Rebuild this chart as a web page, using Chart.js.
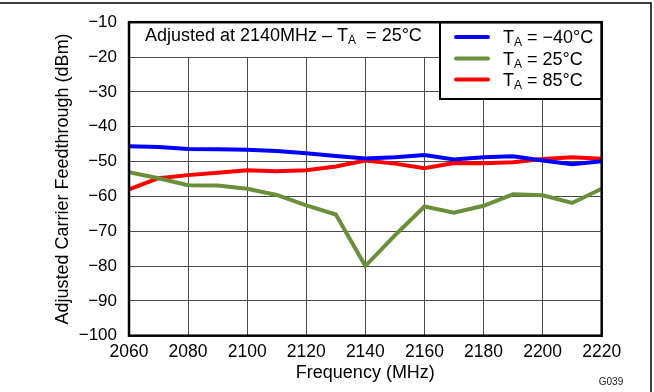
<!DOCTYPE html>
<html>
<head>
<meta charset="utf-8">
<script src="https://cdn.jsdelivr.net/npm/chart.js@4.4.1/dist/chart.umd.min.js"></script>
<style>
html,body{margin:0;padding:0;background:#fff;}
#wrap{width:654px;height:392px;position:relative;}
</style>
</head>
<body>
<div id="wrap"><canvas id="c" width="654" height="392"></canvas></div>
<script>
// ---- data ----
const freqs = [2060,2070,2080,2090,2100,2110,2120,2130,2140,2150,2160,2170,2180,2190,2200,2210,2220];
const tMinus40 = [-45.6,-45.8,-46.4,-46.5,-46.6,-47.0,-47.6,-48.4,-49.1,-48.8,-48.1,-49.4,-48.8,-48.5,-49.7,-50.8,-49.9];
const t25 = [-53.1,-54.8,-56.8,-56.9,-57.8,-59.6,-62.6,-65.2,-80.0,-71.2,-62.9,-64.7,-62.7,-59.4,-59.7,-61.9,-57.8];
const t85 = [-58.0,-54.8,-53.9,-53.2,-52.5,-52.8,-52.5,-51.4,-49.7,-50.6,-51.9,-50.4,-50.5,-50.2,-49.3,-48.8,-49.2];
const seriesSub = ['A','A','A'];
const seriesLabels = [' = \u221240\u00b0C',' = 25\u00b0C',' = 85\u00b0C'];
const seriesColors = ['#0000ff','#6b8e3a','#ff0000'];
const xTicks = [2060,2080,2100,2120,2140,2160,2180,2200,2220];
const yTicks = [-100,-90,-80,-70,-60,-50,-40,-30,-20,-10];
const xTitle = 'Frequency (MHz)';
const yTitle = 'Adjusted Carrier Feedthrough (dBm)';
const noteMain = 'Adjusted at 2140MHz \u2013 T';
const noteSub = 'A';
const noteEnd = '  = 25\u00b0C';
const figId = 'G039';

const FONT = '"Liberation Sans", Arial, sans-serif';
const series = [tMinus40, t25, t85];

const datasets = series.map((s, i) => ({
  label: 'T' + seriesSub[i] + seriesLabels[i],
  data: freqs.map((f, j) => ({x: f, y: s[j]})),
  borderColor: seriesColors[i],
  backgroundColor: seriesColors[i],
  borderWidth: 4,
  pointRadius: 0,
  tension: 0,
  fill: false
}));

const decor = {
  id: 'decor',
  afterDraw(chart) {
    const ctx = chart.ctx;
    const a = chart.chartArea;
    ctx.save();
    // note box (covers grid)
    ctx.fillStyle = '#fff';
    ctx.fillRect(a.left, a.top, 428 - a.left, 57 - a.top);
    // legend box
    const lx = 440, ly = a.top, lw = a.right - 440, lh = 99 - a.top;
    ctx.fillRect(lx, ly, lw, lh);
    ctx.strokeStyle = '#000';
    ctx.lineWidth = 2;
    ctx.strokeRect(lx, ly, lw, lh);
    // plot frame
    ctx.lineWidth = 2.5;
    ctx.strokeRect(a.left, a.top, a.right - a.left, a.bottom - a.top);
    // outer frame
    ctx.lineWidth = 1.5;
    ctx.beginPath();
    ctx.moveTo(0, 3); ctx.lineTo(651, 3); ctx.lineTo(651, 392);
    ctx.stroke();
    // note text
    ctx.fillStyle = '#000';
    ctx.textBaseline = 'alphabetic';
    ctx.textAlign = 'left';
    ctx.font = '18px ' + FONT;
    let x = 145;
    ctx.fillText(noteMain, x, 41);
    x += ctx.measureText(noteMain).width;
    ctx.font = '12px ' + FONT;
    ctx.fillText(noteSub, x, 44);
    x += ctx.measureText(noteSub).width;
    ctx.font = '18px ' + FONT;
    ctx.fillText(noteEnd, x, 41);
    // legend entries
    const rows = [37, 58.5, 79.5];
    series.forEach((s, i) => {
      const y = rows[i];
      ctx.strokeStyle = seriesColors[i];
      ctx.lineWidth = 4;
      ctx.lineCap = 'round';
      ctx.beginPath();
      ctx.moveTo(456, y); ctx.lineTo(488, y);
      ctx.stroke();
      ctx.fillStyle = '#000';
      let tx = 503;
      ctx.font = '18px ' + FONT;
      ctx.fillText('T', tx, y + 6);
      tx += ctx.measureText('T').width;
      ctx.font = '12px ' + FONT;
      ctx.fillText(seriesSub[i], tx, y + 9);
      tx += ctx.measureText(seriesSub[i]).width;
      ctx.font = '18px ' + FONT;
      ctx.fillText(seriesLabels[i], tx, y + 6);
    });
    // figure id
    ctx.font = '10px ' + FONT;
    ctx.textAlign = 'center';
    ctx.fillStyle = '#222';
    ctx.fillText(figId, 611, 385);
    ctx.restore();
  }
};

new Chart(document.getElementById('c'), {
  type: 'line',
  data: { datasets },
  plugins: [decor],
  options: {
    responsive: false,
    animation: false,
    devicePixelRatio: 1,
    layout: { padding: { left: 0, top: 15, right: 52.3, bottom: 0 } },
    plugins: { legend: { display: false }, tooltip: { enabled: false } },
    scales: {
      x: {
        type: 'linear',
        min: 2060, max: 2220,
        afterFit(s) { s.height = 56.3; },
        afterBuildTicks(s) { s.ticks = xTicks.map(v => ({value: v})); },
        grid: { color: '#4a4a4a', lineWidth: 1, drawTicks: false },
        border: { display: false },
        ticks: { color: '#000', padding: 6, font: { family: FONT, size: 17.5 }, maxRotation: 0, callback: v => String(v) },
        title: { display: true, text: xTitle, color: '#000', font: { family: FONT, size: 18 }, padding: { top: 0, bottom: 7.7 } }
      },
      y: {
        min: -100, max: -10,
        afterFit(s) { s.width = 129; },
        afterBuildTicks(s) { s.ticks = yTicks.map(v => ({value: v})); },
        grid: { color: '#4a4a4a', lineWidth: 1, drawTicks: false },
        border: { display: false },
        ticks: { color: '#000', padding: 12, font: { family: FONT, size: 17 }, callback: v => String(v).replace('-', '\u2212') },
        title: { display: true, text: yTitle, color: '#000', font: { family: FONT, size: 18 }, padding: { top: 52, bottom: 0 } }
      }
    }
  }
});
</script>
</body>
</html>
